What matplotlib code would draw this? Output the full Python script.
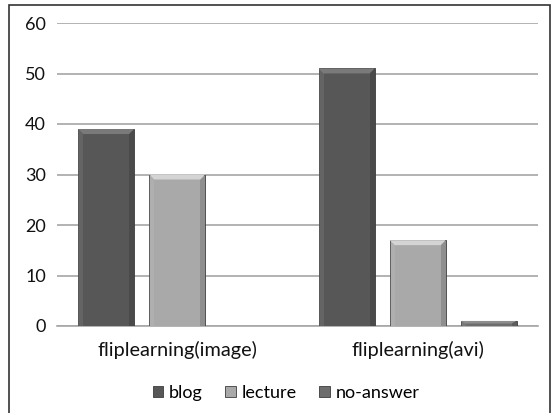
import numpy as np
import matplotlib
matplotlib.use("Agg")
import matplotlib.pyplot as plt
from matplotlib.patches import Polygon, Rectangle

categories = ["fliplearning(image)", "fliplearning(avi)"]
series_names = ["blog", "lecture", "no-answer"]
blog = [39, 51]
lecture = [30, 17]
no_answer = [0, 1]
yticks = [0, 10, 20, 30, 40, 50, 60]

values = [blog, lecture, no_answer]
colors = ["#575757", "#a9a9a9", "#6e6e6e"]
tops = ["#7a7a7a", "#d4d4d4", "#8e8e8e"]

FONT = "Lato"
FS = 13

W, H = 552, 413
fig = plt.figure(figsize=(W / 100, H / 100), dpi=100)
fig.patch.set_facecolor("white")

# outer chart border
fig.add_artist(Rectangle((9 / W, -0.01), (550 - 9) / W, (H - 5) / H + 0.01,
                         transform=fig.transFigure, fill=False,
                         edgecolor="#333333", linewidth=1.2))

left, right = 57 / W, 538 / W
bottom, top = 1 - 326 / H, 1 - 23 / H
ax = fig.add_axes([left, bottom, right - left, top - bottom])

x = np.arange(len(categories))
bw = 56 / 240.5
step = 71 / 240.5
ax.set_xlim(-0.5, len(categories) - 0.5)
ax.set_ylim(0, 60)

# data units per pixel, for the bevel size
px_x = 1 / 240.5
px_y = 60 / (326 - 23)
bev = 5

for i, (vals, c, tc) in enumerate(zip(values, colors, tops)):
    xs = x + (i - 1) * step
    ax.bar(xs, vals, width=bw, color=c, edgecolor="#3c3c3c", linewidth=0.6,
           label=series_names[i], zorder=3)
    for xc, v in zip(xs, vals):
        if v <= 0:
            continue
        x0, x1 = xc - bw / 2, xc + bw / 2
        bx, by = bev * px_x, min(bev * px_y, v / 2)
        # lighter top bevel
        ax.add_patch(Polygon([(x0, v), (x1, v), (x1 - bx, v - by), (x0 + bx, v - by)],
                             closed=True, facecolor=tc, edgecolor="none", zorder=4))
        # darker side bevels
        ax.add_patch(Polygon([(x1, v), (x1, 0), (x1 - bx, 0), (x1 - bx, v - by)],
                             closed=True, facecolor="black", alpha=0.15,
                             edgecolor="none", zorder=4))
        ax.add_patch(Polygon([(x0, v), (x0, 0), (x0 + bx, 0), (x0 + bx, v - by)],
                             closed=True, facecolor="white", alpha=0.08,
                             edgecolor="none", zorder=4))

ax.set_yticks(yticks)
ax.yaxis.grid(True, color="#a6a6a6", linewidth=1.2, zorder=0)
ax.set_axisbelow(True)
for s in ["top", "right", "left"]:
    ax.spines[s].set_visible(False)
ax.spines["bottom"].set_color("#a6a6a6")
ax.spines["bottom"].set_linewidth(1.2)
ax.tick_params(axis="y", length=0, pad=8, labelsize=FS, labelcolor="#111111")
ax.tick_params(axis="x", length=0, pad=11, labelsize=14.3, labelcolor="#111111")
ax.set_xticks(x)
ax.set_xticklabels(categories)
for lbl in ax.get_yticklabels() + ax.get_xticklabels():
    lbl.set_family(FONT)

leg = fig.legend(loc="center", bbox_to_anchor=(286 / W, 1 - 393 / H), ncol=3,
                 frameon=False, handlelength=0.6, handleheight=0.6,
                 handletextpad=0.3, columnspacing=1.25,
                 prop={"family": FONT, "size": FS})

fig.savefig("out.png", dpi=100)
